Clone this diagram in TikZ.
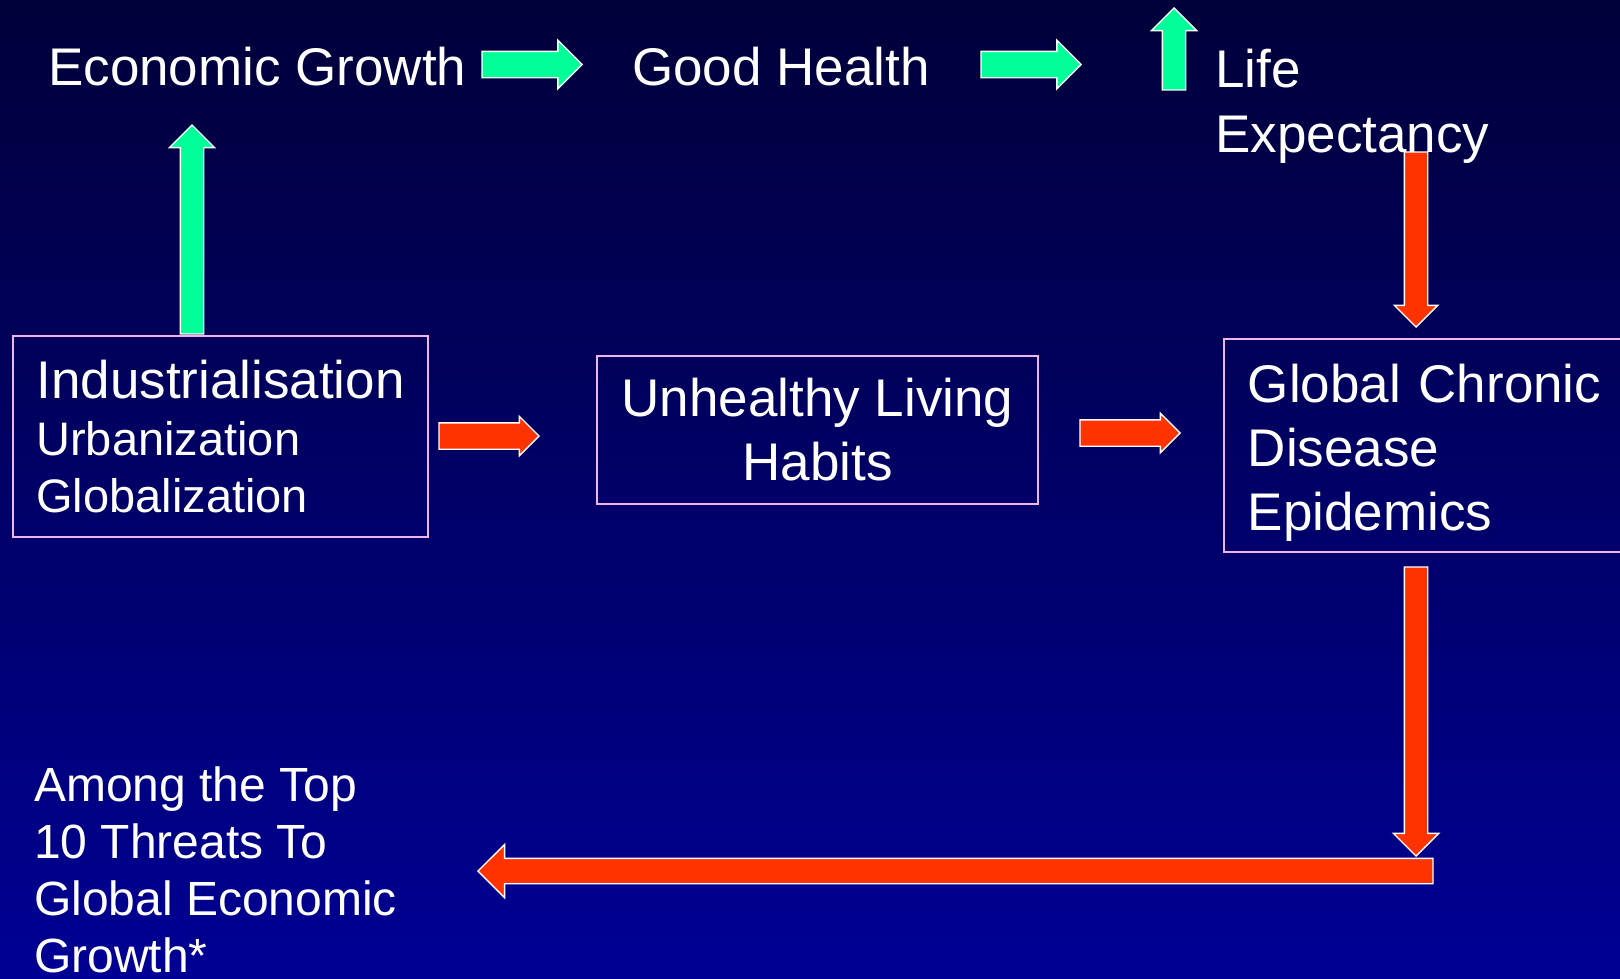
\documentclass[tikz,border=0pt]{standalone}
\usepackage{fontspec}
\setmainfont{Liberation Sans}
\usetikzlibrary{positioning,calc,shapes.arrows}

\begin{document}
\begin{tikzpicture}[x=1pt,y=-1pt]
	\definecolor{bgtop}{RGB}{0,0,58}
	\definecolor{bgbot}{RGB}{0,0,148}
	\definecolor{grarrow}{RGB}{0,255,153}
	\definecolor{rdarrow}{RGB}{255,51,0}
	\definecolor{boxline}{RGB}{236,182,236}
	\tikzset{
		lbl/.style={
			text=white, inner sep=0pt, anchor=base west, align=left,
			font=\fontsize{53}{65}\selectfont
		},
		frame/.style={
			draw=boxline, line width=1.6pt, text=white,
			font=\fontsize{53}{64}\selectfont
		},
		blk/.style={
			single arrow, draw=white, line width=1.4pt,
			inner xsep=0pt, inner ysep=11pt,
			single arrow head extend=11pt, anchor=tip
		},
		gblk/.style={blk, fill=grarrow},
		rblk/.style={blk, fill=rdarrow}
	}
	
	% ======= background =======
	\shade[top color=bgtop, bottom color=bgbot] (0,0) rectangle (1620,978);
	\useasboundingbox (0,0) rectangle (1620,978);
	
	% ======= top row =======
	\node[lbl] (econ)   at (48,85)    {Economic Growth};
	\node[lbl] (health) at (632,85)   {Good Health};
	\node[lbl] (life)   at (1215,152) {Life\\Expectancy};
	
	\node[gblk, inner ysep=12.5pt, minimum height=100pt] (ga) at (583,64.5) {};
	\node[gblk, inner ysep=12.5pt, minimum height=100pt] (gb) at (1082,64.5) {};
	\node[gblk, minimum height=82pt, rotate=90] (gc) at (1174,7) {};
	
	% ======= middle row =======
	\node[frame, minimum width=415pt, minimum height=201pt, align=left,
		font=\fontsize{47}{57}\selectfont] (ind) at (220.5,436.5)
		{{\fontsize{53}{57}\selectfont Industrialisation}\\
		 Urbanization\\
		 Globalization};
	\node[frame, minimum width=441pt, minimum height=148pt, align=center] (unh) at (817.5,430)
		{Unhealthy Living\\Habits};
	\node[frame, anchor=west, text width=354pt, inner xsep=24pt, minimum height=213pt,
		align=left, text height=52pt] (glob) at (1223,445.5)
		{Global Chronic\\Disease\\Epidemics};
	
	\node[gblk, minimum height=209pt, rotate=90] (gd) at (192,124) {};
	\node[rblk, minimum height=175pt, single arrow head extend=10pt,
		rotate=-90] (ra) at (1416,328) {};
	\node[rblk, minimum height=100pt, inner ysep=12.5pt, single arrow head extend=6.5pt]
		(rb) at (540,436) {};
	\node[rblk, minimum height=100pt, inner ysep=12.5pt, single arrow head extend=6.5pt]
		(rc) at (1181,433) {};
	
	% ======= bottom =======
	\node[rblk, minimum height=289pt, rotate=-90] (rd) at (1416,857) {};
	\node[rblk, minimum height=955pt, inner ysep=12pt, single arrow head extend=14pt,
		rotate=180] (re) at (477,871) {};
	
	\node[lbl, font=\fontsize{48}{57}\selectfont] (threat) at (34,972)
		{Among the Top\\10 Threats To\\Global Economic\\Growth*};
	
\end{tikzpicture}
\end{document}
